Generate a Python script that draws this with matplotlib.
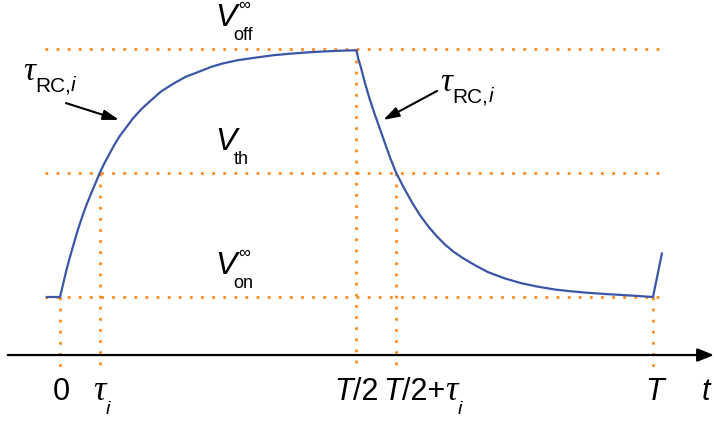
import matplotlib
matplotlib.use("Agg")
import matplotlib.pyplot as plt

# time in units of the period T, voltage normalised so that V_on = 0, V_off = 1
t_curve = [-0.022, 0.0, 0.005, 0.011, 0.016, 0.022, 0.030, 0.039, 0.046, 0.053,
           0.060, 0.067, 0.075, 0.084, 0.092, 0.101, 0.112, 0.123, 0.137, 0.152,
           0.170, 0.191, 0.212, 0.236, 0.255, 0.275, 0.300, 0.332, 0.360, 0.388,
           0.415, 0.444, 0.472, 0.5,
           0.503, 0.507, 0.514, 0.522, 0.531, 0.540, 0.548, 0.557, 0.567, 0.580,
           0.594, 0.607, 0.621, 0.635, 0.649, 0.664, 0.680, 0.700, 0.722, 0.750,
           0.779, 0.805, 0.835, 0.862, 0.890, 0.920, 0.948, 0.975, 1.0, 1.015]
v_curve = [0.0, 0.0, 0.05, 0.11, 0.155, 0.205, 0.27, 0.335, 0.38, 0.42,
           0.46, 0.50, 0.54, 0.58, 0.615, 0.65, 0.685, 0.72, 0.757, 0.79,
           0.828, 0.86, 0.888, 0.91, 0.928, 0.942, 0.955, 0.966, 0.975, 0.981,
           0.986, 0.99, 0.993, 0.995,
           0.96, 0.93, 0.865, 0.80, 0.735, 0.675, 0.62, 0.56, 0.50, 0.44,
           0.38, 0.33, 0.285, 0.246, 0.212, 0.182, 0.156, 0.128, 0.10, 0.075,
           0.055, 0.042, 0.03, 0.023, 0.017, 0.012, 0.008, 0.004, 0.0, 0.175]

levels = [0.0, 0.5, 1.0]            # V_on, V_th, V_off
level_subs = ["on", "th", "off"]
tau_i = 0.067
marks = [0.0, tau_i, 0.5, 0.5 + tau_i, 1.0]
mark_tops = [0.0, 0.5, 1.0, 0.5, 0.0]

ORANGE = "#ff8a1c"
BLUE = "#3b56a6"
SANS = "Liberation Sans"
SERIF = "Liberation Serif"


def putText(ax, x, y, s, dx=0, dy=0, size=22, family=SANS, style="normal", ha="left"):
    """Place a piece of text with an offset in points from a data position"""
    return ax.annotate(s, xy=(x, y), xytext=(dx, dy), textcoords="offset points",
                       fontsize=size, family=family, style=style, ha=ha, va="baseline")


def rowText(ax, x, y, pieces, dx=0, ha="left"):
    """Put several differently styled pieces one after the other

    Args:
        pieces (list): tuples (text, size, family, style, dy)
    """
    renderer = ax.figure.canvas.get_renderer()
    texts, widths = [], []
    for s, size, family, style, dy in pieces:
        t = putText(ax, x, y, s, dy=dy, size=size, family=family, style=style)
        widths.append(t.get_window_extent(renderer).width * 72 / ax.figure.dpi)
        texts.append(t)
    start = dx - (sum(widths) / 2 if ha == "center" else 0)
    for t, w, p in zip(texts, widths, pieces):
        t.xyann = (start, p[4])
        start += w


fig = plt.figure(figsize=(7.14, 4.21), dpi=100)
ax = fig.add_axes([0, 0, 1, 1])
ax.set_xlim(-0.1012, 1.1029)
ax.set_ylim(-0.5, 1.1976)
ax.axis("off")

dots = (0, (1, 3))
for lev in levels:
    ax.plot([-0.025, 1.017], [lev, lev], color=ORANGE, lw=2, ls=dots)
for m, top in zip(marks, mark_tops):
    ax.plot([m, m], [top, -0.30], color=ORANGE, lw=2, ls=dots)

ax.plot(t_curve, v_curve, color=BLUE, lw=1.6, solid_joinstyle="round")

# time axis
ax.annotate("", xy=(1.103, -0.234), xytext=(-0.088, -0.234),
            arrowprops=dict(arrowstyle="-|>,head_length=1.0,head_width=0.4", color="k",
                            lw=1.6, mutation_scale=10, shrinkA=0, shrinkB=0))

# voltage level labels
for lev, sub in zip(levels, level_subs):
    x0, y0 = 0.261, lev + 0.093
    putText(ax, x0, y0, "V", style="italic", size=23)
    putText(ax, x0, y0, sub, dx=13.5, dy=-10, size=13)
    if sub != "th":
        putText(ax, x0, y0, "\u221e", dx=17, dy=11.5, size=12)

# time constant annotations
head = "-|>,head_length=0.95,head_width=0.3"
ax.annotate("", xy=(0.0995, 0.714), xytext=(0.010, 0.782),
            arrowprops=dict(arrowstyle=head, color="k", lw=1.5, mutation_scale=10,
                            shrinkA=0, shrinkB=0))
ax.annotate("", xy=(0.545, 0.714), xytext=(0.636, 0.831),
            arrowprops=dict(arrowstyle=head, color="k", lw=1.5, mutation_scale=10,
                            shrinkA=0, shrinkB=0))
tau_rc = [("\u03c4", 24, SERIF, "italic", 0), ("RC,", 15, SANS, "normal", -8),
          ("i", 15, SANS, "italic", -8)]
rowText(ax, -0.062, 0.875, tau_rc)
rowText(ax, 0.642, 0.831, tau_rc)

# tick labels under the axis
yb = -0.415
tau_sub = [("\u03c4", 25, SERIF, "italic", 0), ("i", 14, SANS, "italic", -10)]
rowText(ax, 0.0, yb, [("0", 22, SANS, "normal", 0)], dx=1, ha="center")
rowText(ax, tau_i, yb, tau_sub, dx=-5)
rowText(ax, 0.5, yb, [("T", 22, SANS, "italic", 0), ("/2", 22, SANS, "normal", 0)],
        ha="center")
rowText(ax, 0.5 + tau_i, yb, [("T", 22, SANS, "italic", 0), ("/2+", 22, SANS, "normal", 0)]
        + tau_sub, dx=-9.5)
rowText(ax, 1.0, yb, [("T", 22, SANS, "italic", 0)], dx=1, ha="center")
rowText(ax, 1.09, yb, [("t", 22, SANS, "italic", 0)], ha="center")

fig.savefig("out.png", dpi=100, facecolor="w")
